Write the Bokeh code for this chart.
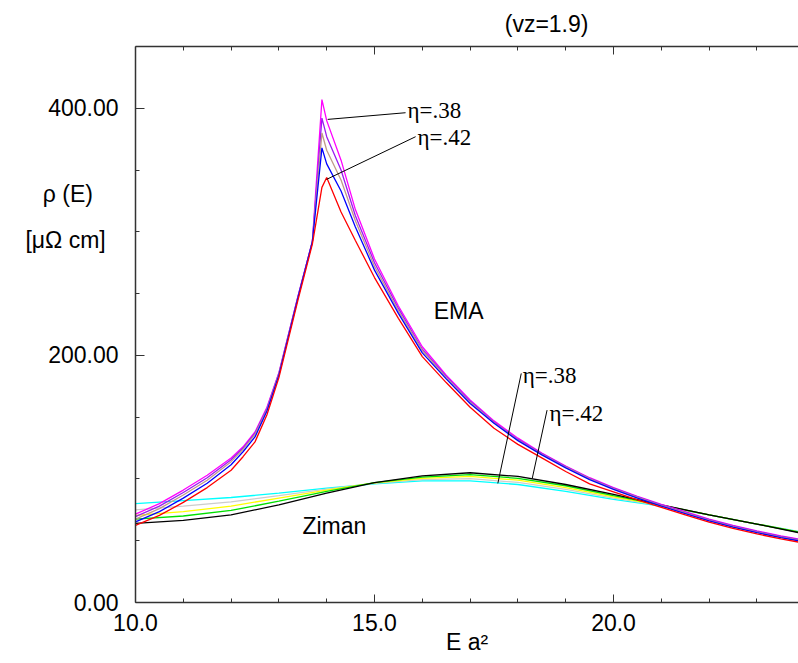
from bokeh.plotting import figure
from bokeh.models import Range1d, LinearAxis, FixedTicker, PrintfTickFormatter, Label
from bokeh.embed import file_html
from bokeh.resources import INLINE

# ---------------- data ----------------
ema_x = [10, 10.5, 11, 11.5, 12, 12.25, 12.5, 12.75, 13, 13.4, 13.7, 13.9, 14.0, 14.3, 14.6, 15.0,
         15.5, 16, 16.5, 17, 17.5, 18, 18.5, 19, 19.5, 20, 20.5, 21, 21.5, 22, 22.5,
         23, 23.5, 24]
ema_038 = [71.5, 80, 91, 103, 117, 126, 138, 158, 186, 248, 292, 407, 390, 358, 318, 278,
           240, 207, 184, 164, 147, 133, 121, 110.5, 101, 93, 86, 79.5, 73.5, 67.5, 62.5,
           58, 54, 50.5]
ema_039 = [69.5, 78, 89, 101, 115.5, 125, 137, 157, 185.5, 248, 292, 392, 377, 350, 313, 275,
           238, 205, 183, 163, 146, 132, 120.5, 110, 100.5, 92.5, 85.5, 79, 73, 67, 62,
           57.5, 53.5, 50]
ema_040 = [67.5, 76, 87, 99, 114, 124, 136, 156, 185, 247, 292, 380, 366, 342, 309, 272,
           236, 204, 182, 162, 145.5, 131.5, 120, 109.5, 100, 92, 85, 78.5, 72.5, 66.5, 61.5,
           57, 53, 49.5]
ema_041 = [65.3, 73.5, 84.5, 96.5, 111.5, 122, 134, 155, 184, 247, 292, 368, 355, 333, 304, 269,
           234, 202, 181, 161, 145, 131, 119.5, 109, 99.5, 91.5, 84.5, 78, 72, 66, 61,
           56.5, 52.5, 49]
ema_042 = [62.5, 70.5, 81, 93, 107, 118, 130, 152, 182, 245, 290, 336, 344, 316, 293, 263,
           230, 199, 178, 158, 141, 128, 117, 106, 96, 89.5, 83, 77, 71, 65, 60,
           55.5, 51.5, 48]

zim_x = [10, 11, 12, 13, 14, 15, 16, 17, 18, 19, 20, 21, 22, 23, 24]
zim_038 = [80, 82.5, 85, 88.5, 92.5, 96, 98.5, 98.5, 95.5, 90, 83.5, 78, 71, 63.5, 56.5]
zim_039 = [75, 78, 81.5, 86.5, 91.8, 96.5, 99.5, 100.2, 97.2, 91.5, 84.5, 78.4, 71, 63.5, 56.3]
zim_040 = [70.5, 73.5, 78, 84.5, 91, 96.8, 100.5, 102, 99, 93, 85.5, 78.6, 71, 63.5, 56.2]
zim_041 = [67.5, 70, 74.5, 82, 90, 97, 101.5, 103.5, 100.5, 94.5, 86.5, 78.8, 71, 63.5, 56]
zim_042 = [64, 66.5, 71, 79, 88.5, 97, 102.5, 105, 102, 95.5, 87.5, 79, 71, 63.5, 55.5]

ema_colors = ["#ff00ff", "#9a1cf0", "#c09a8a", "#0000ff", "#ff0000"]
zim_colors = ["#00ffff", "#cccccc", "#ffff00", "#00e000", "#000000"]

x_major = [10, 15, 20]
x_minor = [11, 12, 13, 14, 16, 17, 18, 19, 21, 22, 23]
y_major = [0, 200, 400]
y_minor = [50, 100, 150, 250, 300, 350]
y_labels = {0: "0.00", 200: "200.00", 400: "400.00"}

# left-side quantity label rows (placed at these y values)
ylab_pos = [331, 293]
ylab_text = ["ρ (E)\u00a0\u00a0\u00a0\u00a0", "[μΩ cm]\u00a0\u00a0"]
x_title = "E a²"
title_pos = 18.6
title_text = "(vz=1.9)"

# leader lines for eta labels: (x0, y0, x1, y1)
lead_x0 = [14.02, 14.0, 17.58, 18.30]
lead_y0 = [391, 342.5, 96.4, 100.4]
lead_x1 = [15.65, 15.86, 18.07, 18.61]
lead_y1 = [396.4, 377, 185.4, 155.7]
eta_text = ["η=.38", "η=.42", "η=.38", "η=.42"]
eta_tx = [15.69, 15.90, 18.10, 18.66]
eta_ty = [398, 376, 184, 153]

SANS = "Liberation Sans"
SERIF = "Liberation Serif"
FS = "23px"
AX = "#333333"

p = figure(width=798, height=660, output_backend="svg", toolbar_location=None,
           title=None, x_range=Range1d(10, 23.87), y_range=Range1d(0, 450),
           min_border_left=135, min_border_right=0, min_border_top=46,
           min_border_bottom=58, x_axis_type=None, y_axis_type=None)
p.outline_line_color = None
p.background_fill_color = "white"
p.border_fill_color = "white"


def tick_axis(ticks, minor, tick_in):
    ax = LinearAxis()
    ax.ticker = FixedTicker(ticks=ticks, minor_ticks=minor)
    ax.axis_line_color = AX
    ax.axis_line_width = 1.5
    ax.major_tick_line_color = AX
    ax.minor_tick_line_color = AX
    ax.major_tick_in = tick_in
    ax.major_tick_out = 0
    ax.minor_tick_in = 4
    ax.minor_tick_out = 0
    ax.major_label_text_font = SANS
    ax.major_label_text_font_size = FS
    ax.major_label_text_color = "black"
    return ax


def text_axis(ticks, overrides, standoff):
    ax = LinearAxis()
    ax.ticker = FixedTicker(ticks=ticks, minor_ticks=[])
    ax.major_label_overrides = overrides
    ax.axis_line_color = None
    ax.major_tick_line_color = None
    ax.minor_tick_line_color = None
    ax.major_tick_in = 0
    ax.major_tick_out = 0
    ax.minor_tick_in = 0
    ax.minor_tick_out = 0
    ax.major_label_standoff = standoff
    ax.major_label_text_font = SANS
    ax.major_label_text_font_size = FS
    ax.major_label_text_color = "black"
    return ax


# bottom axis with tick labels and axis title
xb = tick_axis(x_major, x_minor, 8)
xb.formatter = PrintfTickFormatter(format="%.1f")
xb.major_label_standoff = 11
xb.axis_label = x_title
xb.axis_label_text_font = SANS
xb.axis_label_text_font_size = FS
xb.axis_label_text_font_style = "normal"
xb.axis_label_text_color = "black"
xb.axis_label_standoff = -5
p.add_layout(xb, "below")

# top axis: ticks only (labels switched off)
xt = tick_axis(x_major, x_minor, 8)
xt.major_label_text_color = None
xt.major_label_standoff = 0
p.add_layout(xt, "above")
# top text row: the chart's parameter note
xc = text_axis([title_pos], {title_pos: title_text}, 10)
p.add_layout(xc, "above")

# left axis: ticks only (labels switched off)
yl = tick_axis(y_major, y_minor, 9)
yl.major_label_text_color = None
yl.major_label_standoff = 0
p.add_layout(yl, "left")
# left text column: tick values and the quantity label
left_over = dict(y_labels)
for v, t in zip(ylab_pos, ylab_text):
    left_over[v] = t
yc = text_axis(y_major + ylab_pos, left_over, 17)
p.add_layout(yc, "left")

# curves
for ys, c in zip([zim_038, zim_039, zim_040, zim_041, zim_042], zim_colors):
    p.line(zim_x, ys, line_color=c, line_width=1.3)
for ys, c in zip([ema_038, ema_039, ema_040, ema_041, ema_042], ema_colors):
    p.line(ema_x, ys, line_color=c, line_width=1.3)

# leader lines
p.segment(x0=lead_x0, y0=lead_y0, x1=lead_x1, y1=lead_y1, line_color="black", line_width=1)

for tx, ty, t in zip(eta_tx, eta_ty, eta_text):
    p.add_layout(Label(x=tx, y=ty, text=t, text_font=SERIF, text_font_size=FS,
                       text_align="left", text_baseline="middle", text_color="black"))


def lab(x, y, t):
    p.add_layout(Label(x=x, y=y, text=t, text_font=SANS, text_font_size=FS,
                       text_align="center", text_baseline="middle", text_color="black"))


lab(16.76, 236, "EMA")
lab(14.16, 62, "Ziman")

open("out.html", "w").write(file_html(p, INLINE))
